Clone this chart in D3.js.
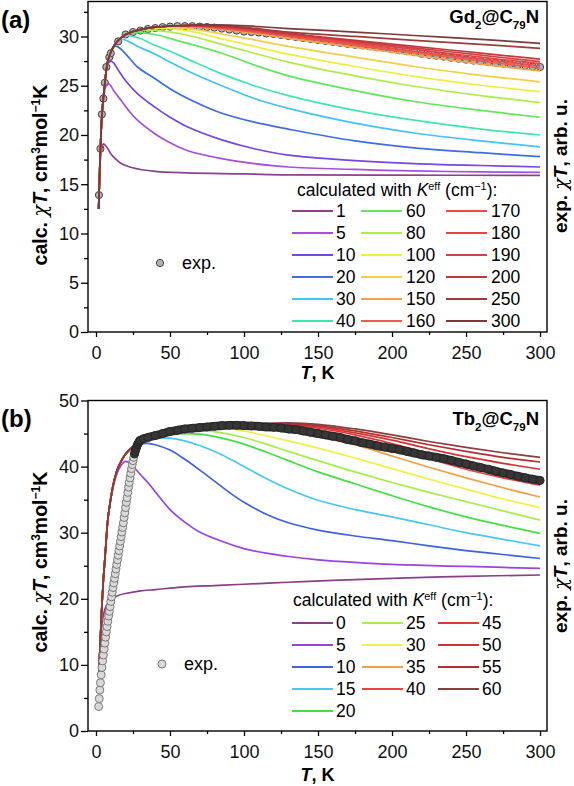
<!DOCTYPE html>
<html><head><meta charset="utf-8">
<script src="https://cdn.jsdelivr.net/npm/d3@7"></script>
<style>
body{margin:0;background:#fff;}
svg{display:block;font-family:"Liberation Sans",Arial,Helvetica,sans-serif;}
</style></head><body>
<svg id="c" width="574" height="786"></svg>
<script>
// ---------------- DATA ----------------
const xTicks = [0, 50, 100, 150, 200, 250, 300];
const xMinor = [25, 75, 125, 175, 225, 275];
const gdYTicks = [0, 5, 10, 15, 20, 25, 30];
const gdYMinor = [2.5, 7.5, 12.5, 17.5, 22.5, 27.5, 32.5];
const tbYTicks = [0, 10, 20, 30, 40, 50];
const tbYMinor = [5, 15, 25, 35, 45];

// Gd2@C79N
const gdKeff = [1, 5, 10, 20, 30, 40, 60, 80, 100, 120, 150, 160, 170, 180, 190, 200, 250, 300];
const gdColors = ["#8c418c", "#a450de", "#7846e4", "#3e6ee6", "#40c6f0", "#3fe6b0", "#5ee85a", "#aeee4a",
  "#eeee3e", "#f4cf46", "#f3a24a", "#f05c4a", "#ec4b4b", "#e24545", "#d43f3f", "#bf3a3a", "#9e3b3b", "#7c3b3b"];
const gdEnvelope = [[1.8,12.5],[2.5,16.3],[3,18.6],[4,22.0],[5,23.8],[6,25.3],[7,26.6],[8,27.5],[9,28.0],[10,28.4],
  [12,29.0],[15,29.6],[20,30.2],[25,30.5],[30,30.7],[40,30.95],[50,31.05],[60,31.1]];
const gdTails = [
  [[2.5,16.0],[3,17.6],[4,18.7],[5,19.1],[6,19.0],[8,18.6],[10,18.1],[13,17.6],[17,17.1],[24,16.7],[40,16.3],[62,16.15],[100,16.05],[130,15.95],[200,15.92],[300,15.9]],
  [[6,24.6],[7,25.05],[8.6,25.2],[10,25.0],[12,24.5],[17,23.5],[22,22.5],[28,21.5],[40,20.1],[50,19.2],[62,18.4],[85,17.6],[107,17.1],[130,16.75],[175,16.5],[215,16.35],[260,16.25],[300,16.2]],
  [[8,27.2],[10,27.5],[12,27.3],[15,26.6],[20,25.5],[28,24.2],[40,22.8],[50,21.8],[62,20.8],[85,19.5],[107,18.6],[130,17.95],[175,17.4],[215,17.1],[260,16.9],[300,16.75]],
  [[12,28.95],[14,29.0],[17,28.7],[22,27.9],[28,26.9],[40,25.7],[50,24.7],[62,23.7],[85,22.2],[107,21.3],[130,20.6],[175,19.4],[215,18.7],[260,18.2],[300,17.8]],
  [[15,29.55],[18,29.7],[22,29.5],[28,29.0],[40,28.2],[50,27.4],[62,26.5],[85,25.0],[107,23.7],[130,22.7],[175,21.2],[215,20.2],[260,19.4],[300,18.8]],
  [[20,30.1],[25,30.0],[30,29.8],[40,29.1],[50,28.5],[62,27.7],[85,26.2],[107,25.0],[130,24.0],[175,22.5],[215,21.5],[260,20.6],[300,20.0]],
  [[25,30.4],[30,30.4],[40,30.2],[51,29.75],[62,29.3],[85,28.3],[107,27.1],[130,26.0],[175,24.5],[215,23.4],[260,22.5],[300,21.8]],
  [[35,30.65],[45,30.55],[60,30.2],[85,29.2],[107,28.3],[130,27.4],[175,26.0],[215,24.95],[260,24.0],[300,23.3]],
  [[40,30.85],[50,30.8],[65,30.5],[85,29.75],[107,29.0],[130,28.2],[175,26.95],[215,25.95],[260,25.05],[300,24.4]],
  [[45,30.95],[55,30.9],[70,30.65],[85,30.25],[107,29.65],[130,29.0],[175,27.9],[215,26.95],[260,26.05],[300,25.4]],
  [[55,31.05],[70,30.95],[90,30.65],[110,30.25],[130,29.8],[175,28.9],[215,28.1],[260,27.2],[300,26.5]],
  [[60,31.1],[75,30.95],[95,30.65],[112,30.35],[130,30.0],[175,29.1],[215,28.35],[260,27.5],[300,26.8]],
  [[60,31.1],[80,30.95],[100,30.65],[130,30.1],[175,29.25],[215,28.5],[260,27.7],[300,27.0]],
  [[60,31.1],[80,31.0],[100,30.75],[130,30.2],[175,29.4],[215,28.7],[260,27.9],[300,27.25]],
  [[60,31.1],[80,31.02],[100,30.8],[130,30.25],[175,29.5],[215,28.85],[260,28.1],[300,27.45]],
  [[60,31.1],[80,31.05],[100,30.85],[130,30.3],[175,29.6],[215,29.0],[260,28.3],[300,27.7]],
  [[65,31.15],[85,31.1],[105,30.85],[130,30.45],[175,30.0],[215,29.6],[260,29.2],[300,28.8]],
  [[70,31.2],[90,31.15],[110,31.0],[130,30.8],[175,30.45],[215,30.1],[260,29.7],[300,29.3]]
];
const gdExp = [[2,13.9],[3,18.6],[4,22.1],[5,23.7],[6,25.3],[7,26.9],[9,27.9],[10,28.3],[15,29.5],[20,30.2],
  [25,30.45],[30,30.6],[35,30.75],[40,30.85],[45,30.95],[50,31.0],[55,31.05],[60,31.05],[65,31.05],[70,31.0],
  [75,30.95],[80,30.9],[85,30.8],[90,30.7],[95,30.6],[100,30.5],[105,30.45],[110,30.4],[115,30.3],[120,30.25],
  [125,30.15],[130,30.05],[135,29.95],[140,29.85],[145,29.75],[150,29.65],[155,29.55],[160,29.45],[165,29.35],[170,29.25],
  [175,29.15],[180,29.1],[185,29.0],[190,28.9],[195,28.85],[200,28.7],[205,28.6],[210,28.5],[215,28.4],[220,28.25],
  [225,28.15],[230,28.05],[235,27.95],[240,27.85],[245,27.75],[250,27.65],[255,27.55],[260,27.5],[265,27.4],[270,27.35],
  [275,27.25],[280,27.2],[285,27.1],[290,27.05],[295,26.95],[300,26.9]];

// Tb2@C79N
const tbKeff = [0, 5, 10, 15, 20, 25, 30, 35, 40, 45, 50, 55, 60];
const tbColors = ["#8a3f8a", "#9a44e0", "#3e63e0", "#46c8f0", "#42e042", "#a4ef48", "#f0f046", "#f2a042",
  "#ec4242", "#e03a3a", "#d23434", "#b42e2e", "#8a3e3e"];
const tbEnvelope = [[2,9.0],[3,14.0],[4,19.0],[5,23.0],[6,26.0],[7,29.2],[8,32.0],[10,35.2],[12,37.6],[15,39.9],
  [18,41.2],[20,41.9],[25,43.0],[30,43.6],[35,44.1],[40,44.5],[50,45.1],[60,45.5],[70,45.8],[80,46.0],[90,46.2],[100,46.3],[115,46.4]];
const tbTails = [
  [[3,13.5],[4,16.0],[5,17.5],[7,19.0],[10,19.9],[15,20.5],[20,20.8],[30,21.2],[40,21.4],[60,21.8],[80,22.0],[100,22.2],[130,22.5],[160,22.8],[200,23.1],[250,23.4],[300,23.6]],
  [[10,35.0],[12,37.3],[15,39.4],[18,40.5],[20,40.8],[23,40.5],[26,39.8],[30,38.8],[35,37.6],[40,36.2],[50,33.5],[60,31.6],[70,30.1],[85,28.7],[100,27.6],[115,26.9],[130,26.4],[150,25.9],[175,25.5],[200,25.2],[250,24.9],[300,24.6]],
  [[25,42.9],[30,43.4],[35,43.5],[40,43.3],[50,42.5],[60,41.1],[70,39.5],[80,37.8],[90,36.1],[100,34.6],[115,32.8],[130,31.5],[150,30.4],[175,29.5],[200,28.8],[225,28.0],[250,27.3],[275,26.7],[300,26.1]],
  [[40,44.3],[50,44.3],[60,43.9],[70,43.2],[85,41.8],[100,40.0],[115,38.2],[130,36.6],[150,34.9],[175,33.5],[200,32.4],[225,31.2],[250,30.0],[275,29.0],[300,28.0]],
  [[50,44.9],[60,45.0],[70,44.9],[85,44.3],[100,43.4],[115,42.2],[130,40.9],[150,39.2],[175,37.4],[200,35.6],[225,33.9],[250,32.4],[275,31.1],[300,29.9]],
  [[60,45.4],[70,45.5],[80,45.3],[100,44.4],[115,43.4],[130,42.3],[150,40.9],[175,39.2],[200,37.6],[225,36.1],[250,34.7],[275,33.3],[300,31.9]],
  [[80,45.9],[95,45.6],[110,44.9],[130,43.9],[150,42.8],[175,41.3],[200,39.7],[225,38.1],[250,36.6],[275,35.1],[300,33.8]],
  [[90,46.1],[105,45.9],[120,45.6],[130,45.3],[150,44.5],[175,43.3],[200,41.6],[225,39.9],[250,38.3],[275,36.8],[300,35.4]],
  [[100,46.3],[115,46.3],[130,46.1],[150,45.5],[175,44.4],[200,42.9],[225,41.2],[250,39.6],[275,38.3],[300,37.2]],
  [[100,46.35],[115,46.4],[130,46.3],[150,45.8],[175,44.8],[200,43.5],[225,42.0],[250,40.5],[275,39.3],[300,38.3]],
  [[115,46.45],[130,46.4],[150,46.0],[175,45.1],[200,44.0],[225,42.7],[250,41.5],[275,40.5],[300,39.6]],
  [[115,46.5],[130,46.5],[150,46.2],[175,45.4],[200,44.4],[225,43.3],[250,42.3],[275,41.4],[300,40.7]],
  [[115,46.5],[130,46.6],[150,46.4],[175,45.7],[200,44.8],[225,43.8],[250,42.9],[275,42.1],[300,41.4]]
];
const tbExp = [[1.8,3.7],[2.2,4.9],[2.6,6.2],[3,7.3],[3.5,8.5],[4,9.6],[4.5,10.6],[5,11.5],[5.5,12.4],[6,13.3],
  [6.5,14.2],[7,15.0],[7.5,15.8],[8,16.6],[8.5,17.4],[9,18.1],[9.5,18.8],[10,19.6],[10.5,20.3],[11,21.0],
  [11.5,21.7],[12,22.4],[12.5,23.1],[13,23.8],[13.5,24.5],[14,25.2],[14.5,25.9],[15,26.6],[15.5,27.3],[16,28.0],
  [16.5,28.7],[17,29.4],[17.5,30.1],[18,30.8],[18.5,31.5],[19,32.3],[19.5,33.0],[20,33.8],[20.5,34.6],[21,35.3],
  [21.5,36.1],[22,36.9],[22.5,37.6],[23,38.3],[23.5,39.0],[24,39.7],[24.5,40.3],[25,40.9],[25.5,41.4],[26,41.9],
  [26.5,42.3],[27,42.7],[27.5,43.0],[28,43.3],[28.5,43.5],[29,43.7],[29.5,43.9],[30,44.0],[32,44.2],[35,44.4],
  [40,44.7],[45,45.0],[50,45.3],[55,45.5],[60,45.7],[65,45.8],[70,45.9],[75,46.0],[80,46.1],[85,46.2],
  [90,46.25],[95,46.25],[100,46.2],[105,46.15],[110,46.1],[115,46.0],[120,45.95],[125,45.85],[130,45.7],[135,45.6],
  [140,45.4],[145,45.2],[150,45.0],[155,44.8],[160,44.6],[165,44.4],[170,44.1],[175,43.9],[180,43.6],[185,43.4],
  [190,43.15],[195,42.95],[200,42.75],[205,42.55],[210,42.3],[215,42.05],[220,41.8],[225,41.6],[230,41.4],[235,41.2],
  [240,40.95],[245,40.65],[250,40.4],[255,40.1],[260,39.85],[265,39.6],[270,39.3],[275,39.05],[280,38.8],[285,38.55],
  [290,38.3],[295,38.1],[300,37.9]];

// ---------------- DRAW ----------------
const svg = d3.select("#c");
const x = d3.scaleLinear().domain([-5.4, 304.7]).range([88, 547]);

function buildCurve(env, tail) {
  return env.filter(p => p[0] < tail[0][0]).concat(tail);
}

function sup(t, s, shift) {
  t.append("tspan").attr("font-size", "0.62em").attr("baseline-shift", shift || "super").text(s);
}

function panel(o) {
  const g = svg.append("g");
  const y = d3.scaleLinear().domain([0, o.yMax]).range([o.y0, o.y1]);
  const line = d3.line().x(d => x(d[0])).y(d => y(d[1])).curve(d3.curveCatmullRom.alpha(0.5));

  const drawExp = (parent) => {
    if (o.bandFrom !== undefined) {
      const band = o.exp.filter(d => d[0] >= o.bandFrom);
      parent.append("path").attr("d", d3.line().x(d => x(d[0])).y(d => y(d[1])).curve(d3.curveCatmullRom)(band))
        .attr("fill", "none").attr("stroke", "#2e2e2e").attr("stroke-width", 8.6).attr("stroke-linecap", "round");
    }
    parent.append("g").selectAll("circle").data(o.exp).join("circle")
      .attr("cx", d => x(d[0])).attr("cy", d => y(d[1])).attr("r", o.expR)
      .attr("fill", o.expFill).attr("stroke", o.expStroke).attr("stroke-width", 0.9);
  };
  if (!o.expOnTop) drawExp(g.append("g"));

  const curves = o.tails.map(t => buildCurve(o.env, t));
  g.append("g").selectAll("path").data(curves).join("path")
    .attr("d", line).attr("fill", "none")
    .attr("stroke", (d, i) => o.colors[i]).attr("stroke-width", 1.7);

  if (o.expOnTop) drawExp(g.append("g"));

  // axes
  const ax = g.append("g").attr("transform", `translate(0,${o.y0})`)
    .call(d3.axisBottom(x).tickValues(xTicks).tickSize(5).tickPadding(9).tickFormat(d3.format("d")));
  const axm = g.append("g").attr("transform", `translate(0,${o.y0})`)
    .call(d3.axisBottom(x).tickValues(xMinor).tickSize(3).tickFormat(""));
  const ay = g.append("g").attr("transform", `translate(88,0)`)
    .call(d3.axisLeft(y).tickValues(o.yTicks).tickSize(7).tickPadding(2).tickFormat(d3.format("d")));
  const aym = g.append("g").attr("transform", `translate(88,0)`)
    .call(d3.axisLeft(y).tickValues(o.yMinor.filter(v => v < o.yMax)).tickSize(4).tickFormat(""));
  [ax, axm, ay, aym].forEach(a => {
    a.select(".domain").remove();
    a.selectAll("line").attr("stroke", "#000").attr("stroke-width", 1.3);
    a.selectAll("text").attr("font-size", 18).attr("fill", "#111")
      .attr("font-family", '"Liberation Sans",Arial,sans-serif');
  });

  g.append("rect").attr("x", 88).attr("y", o.y1).attr("width", 547 - 88).attr("height", o.y0 - o.y1)
    .attr("fill", "none").attr("stroke", "#000").attr("stroke-width", 1.4);

  // panel letter
  g.append("text").attr("x", 1).attr("y", o.letterY).attr("font-size", 24).attr("font-weight", "bold").text(o.letter);

  // compound title
  const ti = g.append("text").attr("x", 539).attr("y", o.titleY).attr("text-anchor", "end")
    .attr("font-size", 18.5).attr("font-weight", "bold");
  ti.append("tspan").text(o.el);
  sup(ti, "2", "sub");
  ti.append("tspan").text("@C");
  sup(ti, "79", "sub");
  ti.append("tspan").text("N");

  // axis titles
  const xt = g.append("text").attr("x", 317.5).attr("y", o.xTitleY).attr("text-anchor", "middle")
    .attr("font-size", 18).attr("font-weight", "bold");
  xt.append("tspan").attr("font-style", "italic").text("T");
  xt.append("tspan").text(", K");

  const yl = g.append("text").attr("transform", `translate(47,${o.yLabelC}) rotate(-90)`)
    .attr("text-anchor", "middle").attr("font-size", 19.5).attr("font-weight", "bold");
  yl.append("tspan").text("calc. ");
  yl.append("tspan").attr("font-style", "italic").attr("font-weight", "normal").attr("font-family", "DejaVu Serif").text("χ");
  yl.append("tspan").attr("font-style", "italic").text("T");
  yl.append("tspan").text(", cm");
  sup(yl, "3");
  yl.append("tspan").text("mol");
  sup(yl, "−1");
  yl.append("tspan").text("K");

  const yr = g.append("text").attr("transform", `translate(567,${o.yRightC}) rotate(-90)`)
    .attr("text-anchor", "middle").attr("font-size", 19).attr("font-weight", "bold");
  yr.append("tspan").text("exp. ");
  yr.append("tspan").attr("font-style", "italic").attr("font-weight", "normal").attr("font-family", "DejaVu Serif").text("χ");
  yr.append("tspan").attr("font-style", "italic").text("T");
  yr.append("tspan").text(", arb. u.");

  // legend
  const lt = g.append("text").attr("x", o.legX).attr("y", o.legTitleY).attr("font-size", 17.5);
  lt.append("tspan").text("calculated with ");
  lt.append("tspan").attr("font-style", "italic").text("K");
  sup(lt, "eff");
  lt.append("tspan").text(" (cm");
  sup(lt, "−1");
  lt.append("tspan").text("):");

  let idx = 0;
  o.colSizes.forEach((n, c) => {
    for (let r = 0; r < n; r++) {
      const yy = o.legRow0 + r * 22;
      g.append("line").attr("x1", o.colLineX[c]).attr("x2", o.colLineX[c] + 41)
        .attr("y1", yy).attr("y2", yy).attr("stroke", o.colors[idx]).attr("stroke-width", 1.8);
      g.append("text").attr("x", o.colTextX[c]).attr("y", yy + 6.3).attr("font-size", 17.5).text(o.keys[idx]);
      idx++;
    }
  });

  g.append("circle").attr("cx", o.expLegX).attr("cy", o.expLegY).attr("r", o.expR)
    .attr("fill", typeof o.expFill === "function" ? "#d9d9d9" : o.expFill)
    .attr("stroke", typeof o.expStroke === "function" ? "#6e6e6e" : o.expStroke).attr("stroke-width", 0.9);
  g.append("text").attr("x", o.expLegX + 22).attr("y", o.expLegY + 6.3).attr("font-size", 18).text("exp.");
}

panel({
  yMax: 33.55, y0: 332, y1: 1.5, yTicks: gdYTicks, yMinor: gdYMinor,
  env: gdEnvelope, tails: gdTails, colors: gdColors, keys: gdKeff,
  exp: gdExp, expR: 3.6, expFill: "#b2b2b2", expStroke: "#333", expOnTop: false,
  letter: "(a)", letterY: 28, el: "Gd", titleY: 23,
  xTitleY: 379, yLabelC: 175, yRightC: 166,
  legX: 297, legTitleY: 196, legRow0: 211, colSizes: [6, 6, 6],
  colLineX: [292, 361, 446], colTextX: [336, 406, 491],
  expLegX: 160, expLegY: 263
});

panel({
  yMax: 50, y0: 731, y1: 400.5, yTicks: tbYTicks, yMinor: tbYMinor,
  env: tbEnvelope, tails: tbTails, colors: tbColors, keys: tbKeff,
  exp: tbExp, expR: 4, expOnTop: true, bandFrom: 26,
  expFill: d => d[0] >= 26 ? "#363636" : "#d9d9d9",
  expStroke: d => d[0] >= 26 ? "#262626" : "#6e6e6e",
  letter: "(b)", letterY: 427, el: "Tb", titleY: 425,
  xTitleY: 781, yLabelC: 562, yRightC: 566,
  legX: 293, legTitleY: 606, legRow0: 623, colSizes: [5, 4, 4],
  colLineX: [292, 362, 438], colTextX: [336, 406, 482],
  expLegX: 162, expLegY: 664
});
</script>
</body></html>
